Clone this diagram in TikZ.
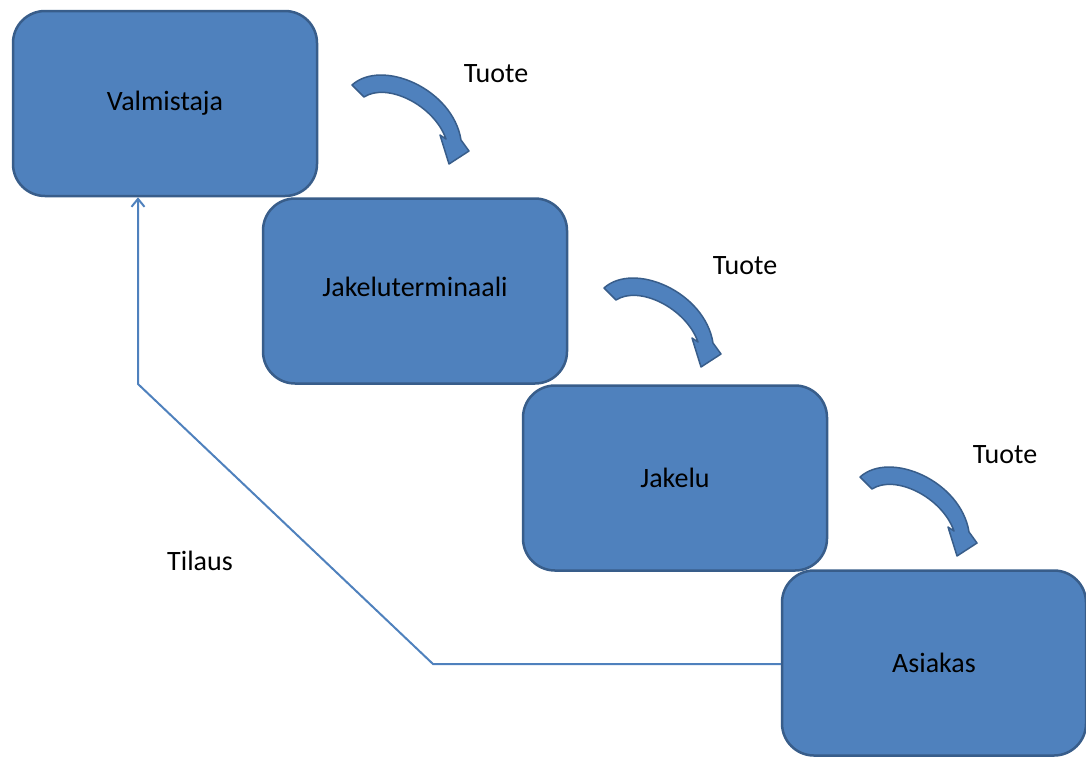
\documentclass[tikz,border=0pt]{standalone}
\usepackage{fontspec}
\setmainfont{Carlito}
\usetikzlibrary{arrows.meta}
\definecolor{boxfill}{HTML}{4F81BD}
\definecolor{boxline}{HTML}{385D8A}
\begin{document}
\begin{tikzpicture}[x=1pt,y=-1pt,
  box/.style={draw=boxline, fill=boxfill, line width=2.5pt, rounded corners=32pt,
    minimum width=304pt, minimum height=185pt, inner sep=0pt,
    font=\fontsize{28}{32}\selectfont},
  lbl/.style={font=\fontsize{28}{32}\selectfont, inner sep=0pt},
  arrowfill/.style={fill=boxfill, draw=boxline, line width=1.5pt, line join=round},
  conn/.style={draw=boxfill, line width=2pt},
  bentarrow/.pic={\filldraw[arrowfill] (0,0) .. controls (30,-27) and (101,4) .. (109,55)
     -- (117,66) -- (97,79) -- (88,50) -- (94,54) .. controls (82,20) and (35,-3) .. (12,12) -- cycle;}
]
\useasboundingbox (0,0) rectangle (1086,756);
\node[box] (val) at (165,103.5) {Valmistaja};
\node[box] (jt) at (415,291) {\raisebox{8pt}{Jakeluterminaali}};
\node[box] (jak) at (675,478) {Jakelu};
\node[box] (asi) at (934,663) {Asiakas};

\pic at (352,85) {bentarrow};
\pic at (604,288) {bentarrow};
\pic at (860,477) {bentarrow};

\node[lbl] (t1) at (496,74) {Tuote};
\node[lbl] (t2) at (745,266) {Tuote};
\node[lbl] (t3) at (1005,455) {Tuote};
\node[lbl] (til) at (200,561) {Tilaus};

\coordinate (c1) at (433,664);
\coordinate (c2) at (138,384);
\draw[conn, -{Straight Barb[length=8pt,width=13pt,line width=2pt]}] ([yshift=-1pt]asi.west) -- (c1) -- (c2) -- (c2 |- val.south);
\end{tikzpicture}
\end{document}
